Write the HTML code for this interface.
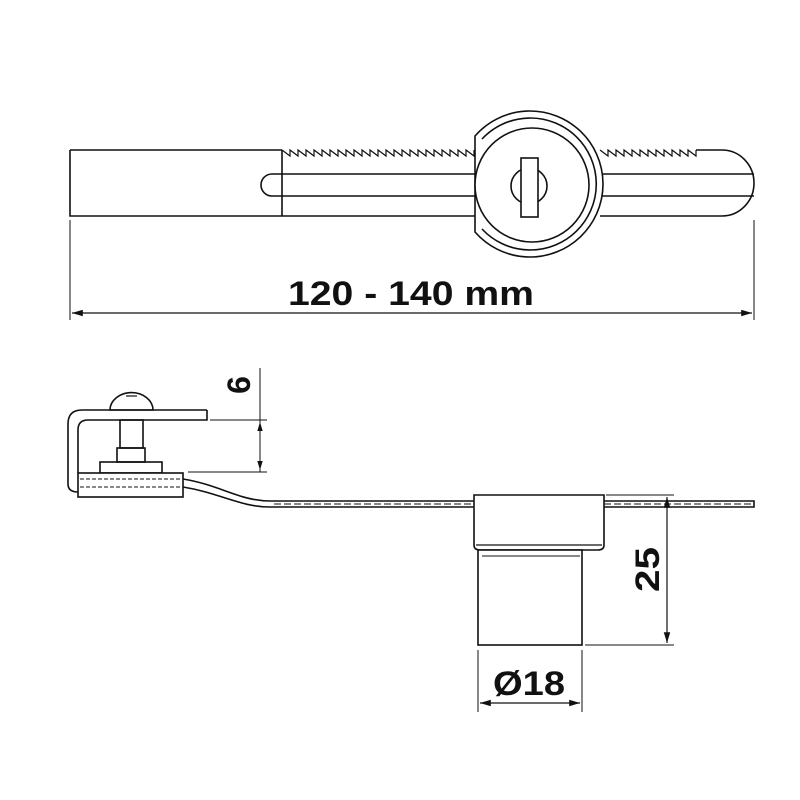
<!DOCTYPE html>
<html><head><style>body{margin:0;background:#fff}svg{display:block}</style></head>
<body>
<svg width="800" height="800" viewBox="0 0 800 800" xmlns="http://www.w3.org/2000/svg" fill="none" stroke="#111" stroke-width="1.6">
<defs>
<marker id="a" viewBox="0 0 10 10" refX="10" refY="5" markerWidth="9" markerHeight="9" orient="auto-start-reverse"><path d="M0,2 L10,5 L0,8 Z" fill="#111" stroke="none"/></marker>
</defs>
<!-- top view bar -->
<path d="M70,150 H282 M70,150 V216 H476 M282,150 V216"/>
<path d="M282,150 l8,6 v-6 l8,6 v-6 l8,6 v-6 l8,6 v-6 l8,6 v-6 l8,6 v-6 l8,6 v-6 l8,6 v-6 l8,6 v-6 l8,6 v-6 l8,6 v-6 l8,6 v-6 l8,6 v-6 l8,6 v-6 l8,6 v-6 l8,6 v-6 l8,6 v-6 l8,6 v-6 l8,6 v-6 l8,6 v-6 l8,6 v-6 l8,6 v-6 l8,6 v-6 l8,6 v-6" stroke-width="1.2"/>
<path d="M600,150 l8,6 v-6 l8,6 v-6 l8,6 v-6 l8,6 v-6 l8,6 v-6 l8,6 v-6 l8,6 v-6 l8,6 v-6 l8,6 v-6 l8,6 v-6 l8,6 v-6 l8,6 v-6" stroke-width="1.2"/>
<path d="M696,150 H722 A32,33 0 0 1 722,216 H600"/>
<path d="M476,174 H272 A11,11 0 0 0 272,196 H476 M600,174 H754 M600,196 H754"/>
<!-- lock -->
<path d="M475,136 A73,73 0 1 1 475,232 Z" fill="#fff"/>
<path d="M482,139 A66,66 0 1 1 482,229"/>
<circle cx="532" cy="185" r="57" fill="#fff"/>
<circle cx="529" cy="186" r="18"/>
<rect x="521" y="158" width="17" height="59" fill="#fff"/>
<!-- dimension 120-140 -->
<path d="M70,220 V320 M754,220 V320" stroke-width="1"/>
<path d="M72,313 H752" stroke-width="1.2" marker-start="url(#a)" marker-end="url(#a)"/>
<text x="288" y="305" textLength="246" lengthAdjust="spacingAndGlyphs" font-family="Liberation Sans, sans-serif" font-weight="bold" font-size="34" fill="#111" stroke="none">120 - 140 mm</text>
<!-- side view -->
<path d="M110,410 A21,17 0 0 1 153,410 Z" />
<path d="M126,396 H137" stroke-width="1.2"/>
<path d="M207,410 H82 Q68,410 68,424 V484 Q68,492 78,492"/>
<path d="M207,410 V420 H88 Q78,420 78,430 V473"/>
<rect x="120" y="420" width="23" height="28"/>
<rect x="117" y="448" width="28" height="14"/>
<rect x="100" y="462" width="62" height="11"/>
<rect x="78" y="473" width="105" height="24" fill="#fff"/>
<path d="M80,479 H181 M80,487 H181" stroke-dasharray="4,2" stroke-width="1"/>
<path d="M183,479 C220,485 240,501 270,501 H474 M183,487 C220,493 240,507 270,507 H474" />
<path d="M274,504 H474 M604,504 H754" stroke-dasharray="7,3" stroke-width="1"/>
<path d="M595,501 H754 V507 H595 Z"/>
<!-- cup -->
<path d="M474,495 H604 V545 Q604,550 598,550 H480 Q474,550 474,545 Z" fill="#fff"/>
<path d="M476,545 H602" stroke-width="1.2"/>
<rect x="478" y="550" width="104" height="95" fill="#fff"/>
<path d="M482,556 H580" stroke-width="1"/>
<!-- dim 6 -->
<path d="M260,368 V472 M210,420 H267 M188,472 H267" stroke-width="1"/>
<path d="M260,438 V422" marker-end="url(#a)" stroke-width="1"/>
<path d="M260,455 V470" marker-end="url(#a)" stroke-width="1"/>
<text transform="translate(250,385) rotate(-90)" text-anchor="middle" font-family="Liberation Sans, sans-serif" font-weight="bold" font-size="32" fill="#111" stroke="none">6</text>
<!-- dim 25 -->
<path d="M606,495 H674 M585,645 H674" stroke-width="1"/>
<path d="M667,497 V643" stroke-width="1.2" marker-start="url(#a)" marker-end="url(#a)"/>
<text transform="translate(659,592) rotate(-90)" textLength="45" lengthAdjust="spacingAndGlyphs" font-family="Liberation Sans, sans-serif" font-weight="bold" font-size="34" fill="#111" stroke="none">25</text>
<!-- dim 18 -->
<path d="M478,650 V712 M582,650 V712" stroke-width="1"/>
<path d="M480,703 H580" stroke-width="1.2" marker-start="url(#a)" marker-end="url(#a)"/>
<text x="493" y="695" textLength="72" lengthAdjust="spacingAndGlyphs" font-family="Liberation Sans, DejaVu Sans, sans-serif" font-weight="bold" font-size="34" fill="#111" stroke="none">Ø18</text>
</svg>
</body></html>
